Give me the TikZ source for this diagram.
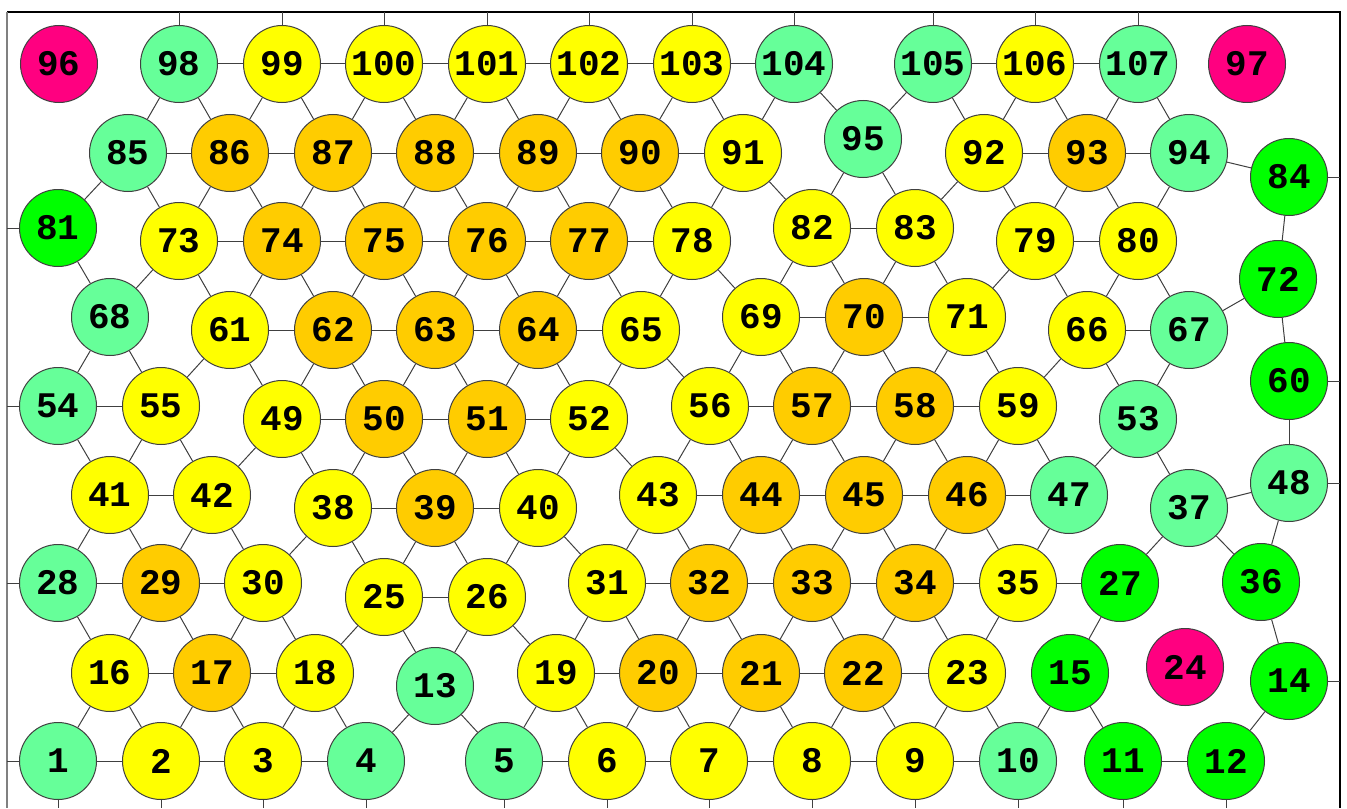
\documentclass[tikz,border=0pt]{standalone}
\usepackage{fontspec}
\newfontfamily\sitefont{Liberation Mono}
\definecolor{mintgreen}{RGB}{102,255,153}
\definecolor{puregreen}{RGB}{0,255,0}
\definecolor{sunyellow}{RGB}{255,255,0}
\definecolor{amber}{RGB}{255,204,0}
\definecolor{hotpink}{RGB}{255,0,128}
\definecolor{bondgray}{RGB}{64,64,64}

\begin{document}
\begin{tikzpicture}[x=0.5pt, y=-0.5pt,
  site/.style={circle, draw=bondgray, line width=0.5pt, minimum size=38.5pt, inner sep=0pt,
    font=\sitefont\bfseries\fontsize{18}{18}\selectfont},
  bond/.style={draw=bondgray, line width=0.5pt}]
  \useasboundingbox (0,0) rectangle (1347,808);
  % frame
  \coordinate (T) at (0,12);
  \coordinate (B) at (0,808);
  \coordinate (L) at (7,0);
  \coordinate (R) at (1340,0);
  \draw[line width=0.6pt] (7,12) -- (1340,12) -- (1340,808);
  \draw[gray, line width=1pt] (7,12) -- (7,808);
  % sites
  \foreach \n/\x/\y/\c in {1/58/761/mintgreen, 2/161/761/sunyellow, 3/263/761/sunyellow,
      4/366/761/mintgreen, 5/504/761/mintgreen, 6/607/761/sunyellow, 7/709/761/sunyellow,
      8/812/761/sunyellow, 9/915/761/sunyellow, 10/1018/761/mintgreen, 11/1123/761/puregreen,
      12/1226/761/puregreen, 13/435/686/mintgreen, 14/1289/681/puregreen, 15/1070/673/puregreen,
      16/110/673/sunyellow, 17/212/673/amber, 18/315/673/sunyellow, 19/556/673/sunyellow,
      20/658/673/amber, 21/761/673/amber, 22/863/673/amber, 23/967/673/sunyellow,
      24/1185/667/hotpink, 25/384/597/sunyellow, 26/487/597/sunyellow, 27/1120/583/puregreen,
      28/58/583/mintgreen, 29/161/583/amber, 30/263/583/sunyellow, 31/607/583/sunyellow,
      32/709/583/amber, 33/812/583/amber, 34/915/583/amber, 35/1018/583/sunyellow,
      36/1261/582/puregreen, 37/1189/508/mintgreen, 38/333/508/sunyellow, 39/435/508/amber,
      40/538/508/sunyellow, 41/110/495/sunyellow, 42/212/495/sunyellow, 43/658/495/sunyellow,
      44/761/495/amber, 45/864/495/amber, 46/967/495/amber, 47/1069/495/mintgreen,
      48/1289/483/mintgreen, 49/282/419/sunyellow, 50/384/419/amber, 51/487/419/amber,
      52/589/419/sunyellow, 53/1138/419/mintgreen, 54/58/406/mintgreen, 55/161/406/sunyellow,
      56/710/406/sunyellow, 57/812/406/amber, 58/915/406/amber, 59/1018/406/sunyellow,
      60/1289/381/puregreen, 61/230/330/sunyellow, 62/333/330/amber, 63/435/330/amber,
      64/538/330/amber, 65/641/330/sunyellow, 66/1087/330/sunyellow, 67/1189/330/mintgreen,
      68/110/317/mintgreen, 69/761/317/sunyellow, 70/864/317/amber, 71/967/317/sunyellow,
      72/1278/279/puregreen, 73/179/241/sunyellow, 74/282/241/amber, 75/384/241/amber,
      76/487/241/amber, 77/589/241/amber, 78/692/241/sunyellow, 79/1035/241/sunyellow,
      80/1138/241/sunyellow, 81/58/228/puregreen, 82/812/228/sunyellow, 83/915/228/sunyellow,
      84/1289/177/puregreen, 85/128/153/mintgreen, 86/230/153/amber, 87/333/153/amber,
      88/435/153/amber, 89/538/153/amber, 90/640/153/amber, 91/743/153/sunyellow,
      92/984/153/sunyellow, 93/1087/153/amber, 94/1189/153/mintgreen, 95/863/139/mintgreen,
      96/59/64/hotpink, 97/1247/64/hotpink, 98/179/64/mintgreen, 99/282/64/sunyellow,
      100/384/64/sunyellow, 101/487/64/sunyellow, 102/589/64/sunyellow, 103/692/64/sunyellow,
      104/794/64/mintgreen, 105/933/64/mintgreen, 106/1035/64/sunyellow, 107/1138/64/mintgreen}
    \node[site, fill=\c] (n\n) at (\x,\y) {\n};
  % bonds
  \foreach \a/\b in {1/2,2/3,3/4,5/6,6/7,7/8,8/9,9/10,11/12,
      16/1,16/2,17/2,17/3,18/3,18/4,13/4,13/5,19/5,19/6,20/6,20/7,21/7,21/8,22/8,22/9,23/9,23/10,15/10,15/11,14/12,
      16/17,17/18,19/20,20/21,21/22,22/23,
      28/16,29/16,29/17,30/17,30/18,25/18,25/13,26/13,26/19,31/19,31/20,32/20,32/21,33/21,33/22,34/22,34/23,35/23,27/15,36/14,
      28/29,29/30,25/26,31/32,32/33,33/34,34/35,35/27,
      41/28,41/29,42/29,42/30,38/30,38/25,39/25,39/26,40/26,40/31,43/31,43/32,44/32,44/33,45/33,45/34,46/34,46/35,47/35,37/27,37/36,48/36,
      41/42,38/39,39/40,43/44,44/45,45/46,46/47,37/48,
      54/41,55/41,55/42,49/42,49/38,50/38,50/39,51/39,51/40,52/40,52/43,56/43,56/44,57/44,57/45,58/45,58/46,59/46,59/47,53/47,53/37,
      54/55,49/50,50/51,51/52,56/57,57/58,58/59,
      68/54,68/55,61/55,61/49,62/49,62/50,63/50,63/51,64/51,64/52,65/52,65/56,69/56,69/57,70/57,70/58,71/58,71/59,66/59,66/53,67/53,60/48,
      61/62,62/63,63/64,64/65,69/70,70/71,66/67,
      81/68,73/68,73/61,74/61,74/62,75/62,75/63,76/63,76/64,77/64,77/65,78/65,78/69,82/69,82/70,83/70,83/71,79/71,79/66,80/66,80/67,72/67,72/60,
      73/74,74/75,75/76,76/77,77/78,82/83,79/80,
      85/81,85/73,86/73,86/74,87/74,87/75,88/75,88/76,89/76,89/77,90/77,90/78,91/78,91/82,95/82,95/83,92/83,92/79,93/79,93/80,94/80,84/72,
      85/86,86/87,87/88,88/89,89/90,90/91,92/93,93/94,94/84,
      98/85,98/86,99/86,99/87,100/87,100/88,101/88,101/89,102/89,102/90,103/90,103/91,104/91,104/95,105/95,105/92,106/92,106/93,107/93,107/94,
      98/99,99/100,100/101,101/102,102/103,103/104,105/106,106/107}
    \draw[bond] (n\a) -- (n\b);
  % boundary stubs
  \foreach \n in {98,...,107}
    \draw[bond] (n\n) -- (n\n |- T);
  \foreach \n in {1,...,12}
    \draw[bond] (n\n) -- (n\n |- B);
  \foreach \n in {81,54,28,1}
    \draw[bond] (n\n) -- (n\n -| L);
  \foreach \n in {84,60,48,14}
    \draw[bond] (n\n) -- (n\n -| R);
\end{tikzpicture}
\end{document}
